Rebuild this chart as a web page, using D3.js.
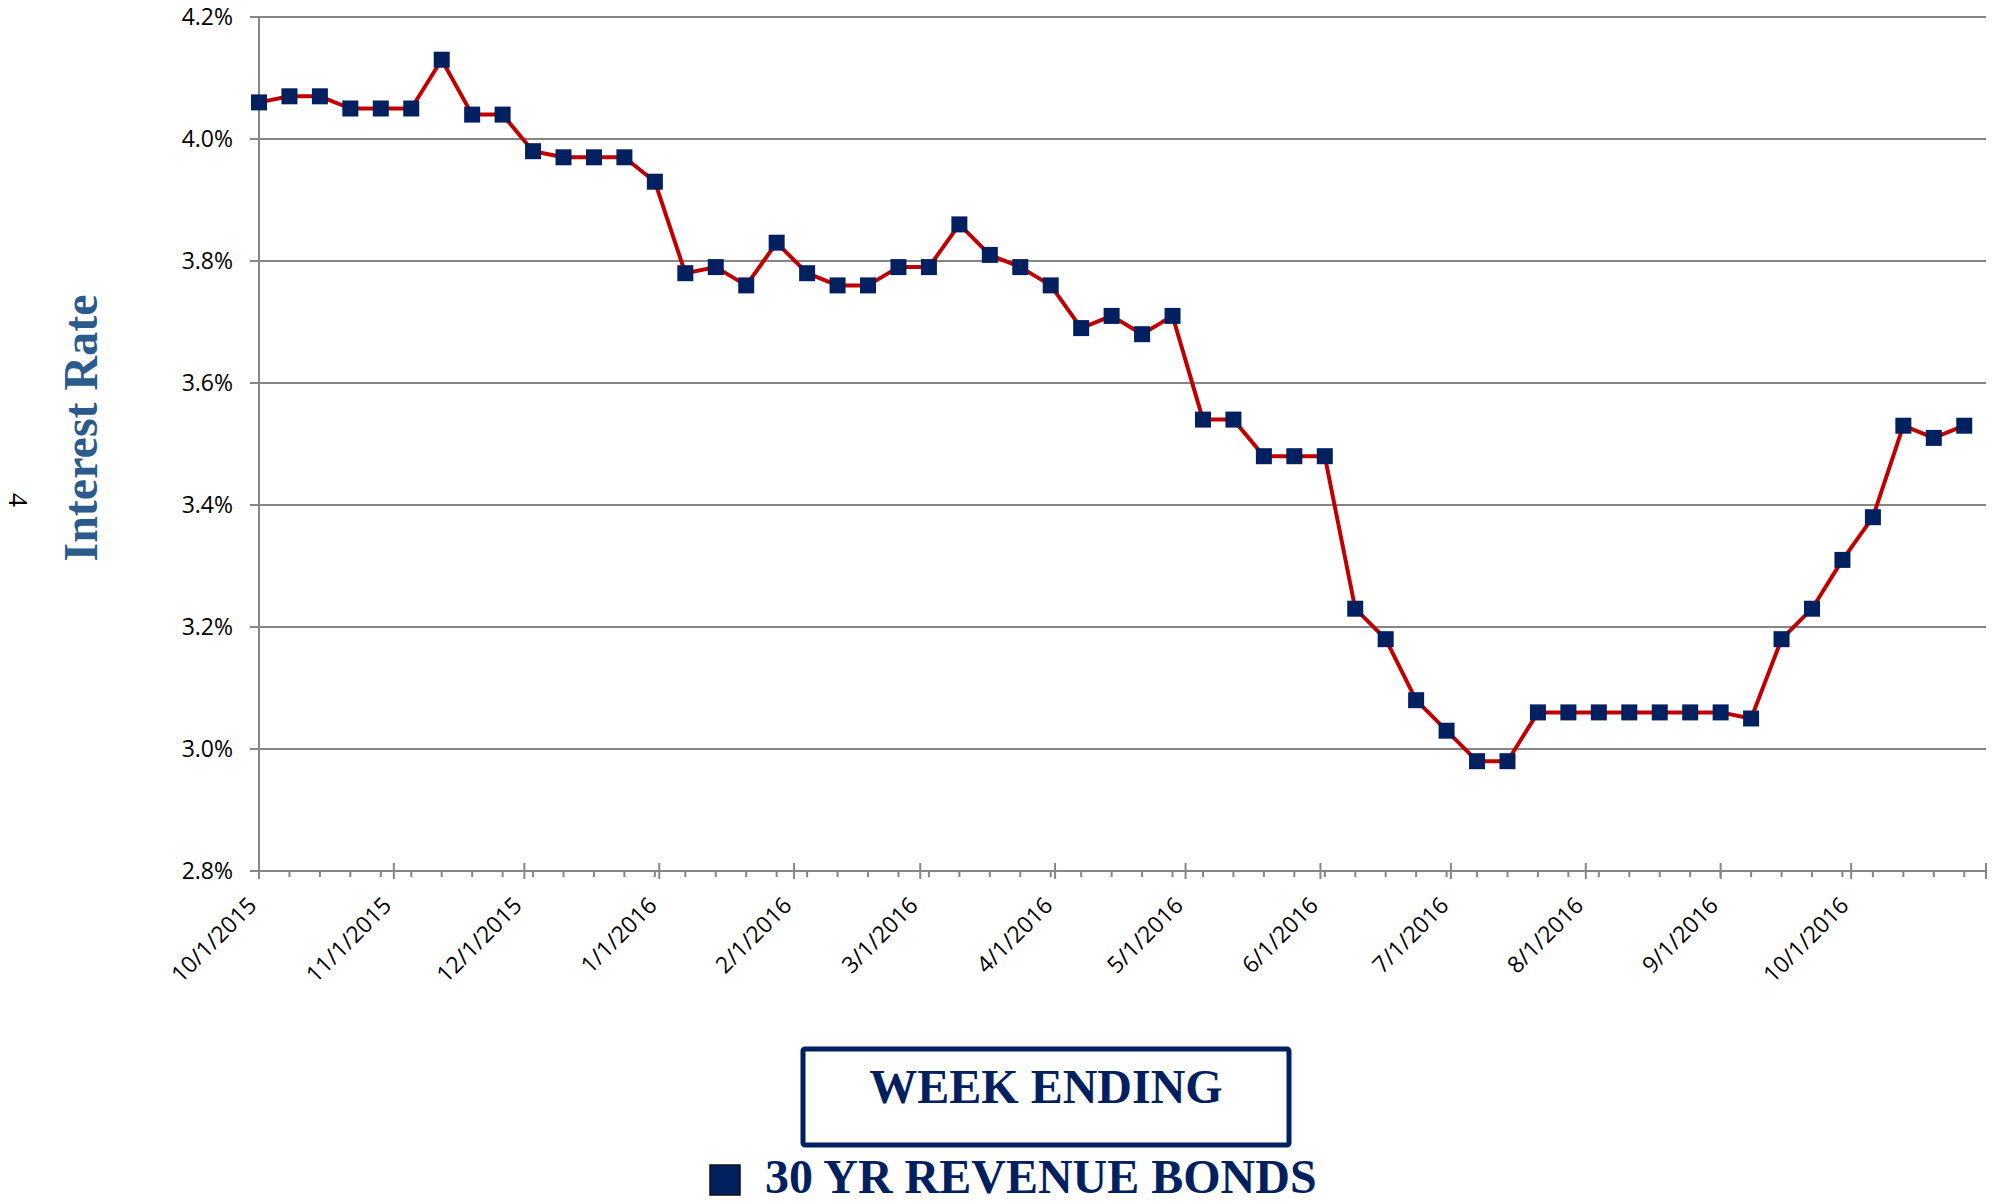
<!DOCTYPE html>
<html>
<head>
<meta charset="utf-8">
<script src="https://cdn.jsdelivr.net/npm/d3@7"></script>
<style>
  html, body { margin: 0; padding: 0; background: #fff; }
  svg { display: block; }
</style>
</head>
<body>
<svg id="chart" width="2002" height="1204"></svg>
<script>
// ---- Data ----
const weekEnding = [
  "2015-10-01","2015-10-08","2015-10-15","2015-10-22","2015-10-29",
  "2015-11-05","2015-11-12","2015-11-19","2015-11-26",
  "2015-12-03","2015-12-10","2015-12-17","2015-12-24","2015-12-31",
  "2016-01-07","2016-01-14","2016-01-21","2016-01-28",
  "2016-02-04","2016-02-11","2016-02-18","2016-02-25",
  "2016-03-03","2016-03-10","2016-03-17","2016-03-24","2016-03-31",
  "2016-04-07","2016-04-14","2016-04-21","2016-04-28",
  "2016-05-05","2016-05-12","2016-05-19","2016-05-26",
  "2016-06-02","2016-06-09","2016-06-16","2016-06-23","2016-06-30",
  "2016-07-07","2016-07-14","2016-07-21","2016-07-28",
  "2016-08-04","2016-08-11","2016-08-18","2016-08-25",
  "2016-09-01","2016-09-08","2016-09-15","2016-09-22","2016-09-29",
  "2016-10-06","2016-10-13","2016-10-20","2016-10-27"
];
const revenueBonds30yr = [
  4.06, 4.07, 4.07, 4.05, 4.05,
  4.05, 4.13, 4.04, 4.04,
  3.98, 3.97, 3.97, 3.97, 3.93,
  3.78, 3.79, 3.76, 3.83,
  3.78, 3.76, 3.76, 3.79,
  3.79, 3.86, 3.81, 3.79, 3.76,
  3.69, 3.71, 3.68, 3.71,
  3.54, 3.54, 3.48, 3.48,
  3.48, 3.23, 3.18, 3.08, 3.03,
  2.98, 2.98, 3.06, 3.06,
  3.06, 3.06, 3.06, 3.06,
  3.06, 3.05, 3.18, 3.23, 3.31,
  3.38, 3.53, 3.51, 3.53
];
const yTicks = [2.8, 3.0, 3.2, 3.4, 3.6, 3.8, 4.0, 4.2];
const xDomain = ["2015-10-01", "2016-11-01"];
const seriesName = "30 YR REVENUE BONDS";
const xTitle = "WEEK ENDING";
const yTitle = "Interest Rate";
const pageNumber = "4";

(function () {
// ---- Setup ----
const parse = d3.utcParse("%Y-%m-%d");
const fmt = d3.utcFormat("%-m/%-d/%Y");
const data = weekEnding.map((d, i) => ({ date: parse(d), value: revenueBonds30yr[i] }));

const svg = d3.select("#chart");
const pLeft = 259, pRight = 1986, pTop = 17, pBottom = 871;

const x = d3.scaleUtc().domain(xDomain.map(parse)).range([pLeft, pRight]);
const y = d3.scaleLinear().domain([2.8, 4.2]).range([pBottom, pTop]);

const gridColor = "#868686";
const labelFont = "'Open Sans', Lato, sans-serif";
const serif = "'Liberation Serif', 'Times New Roman', serif";

// gridlines
svg.append("g").selectAll("line").data(yTicks).join("line")
  .attr("x1", pLeft - 9).attr("x2", pRight)
  .attr("y1", d => y(d)).attr("y2", d => y(d))
  .attr("stroke", gridColor).attr("stroke-width", 2);

// y axis line
svg.append("line").attr("x1", pLeft).attr("x2", pLeft).attr("y1", pTop).attr("y2", pBottom)
  .attr("stroke", gridColor).attr("stroke-width", 2);

// y tick labels
svg.append("g").selectAll("text").data(yTicks).join("text")
  .attr("x", pLeft - 26).attr("y", d => y(d)).attr("dy", "0.36em")
  .attr("text-anchor", "end")
  .attr("font-family", labelFont).attr("font-size", 23).attr("fill", "#000")
  .text(d => d.toFixed(1) + "%");

// x axis minor (weekly) and major (monthly) ticks
const [d0, d1] = x.domain();
const minorTicks = d3.utcDay.range(d0, d3.utcDay.offset(d1, 1)).filter((d, i) => i % 7 === 0);
const majorTicks = d3.utcMonth.range(d0, d3.utcDay.offset(d1, 1));

svg.append("g").selectAll("line").data(minorTicks).join("line")
  .attr("x1", d => x(d)).attr("x2", d => x(d))
  .attr("y1", pBottom).attr("y2", pBottom + 6)
  .attr("stroke", gridColor).attr("stroke-width", 2);

svg.append("g").selectAll("line").data(majorTicks).join("line")
  .attr("x1", d => x(d)).attr("x2", d => x(d))
  .attr("y1", (d, i) => i === 0 ? pBottom : pBottom - 8).attr("y2", pBottom + 8)
  .attr("stroke", gridColor).attr("stroke-width", 2);

// x labels (all months except the final axis end)
svg.append("g").selectAll("text").data(majorTicks.slice(0, -1)).join("text")
  .attr("transform", d => `translate(${x(d) - 1},${pBottom + 36}) rotate(-45)`)
  .attr("text-anchor", "end")
  .attr("font-family", labelFont).attr("font-size", 23).attr("fill", "#000")
  .text(d => fmt(d));

// line
svg.append("path").datum(data)
  .attr("fill", "none").attr("stroke", "#C00000").attr("stroke-width", 4)
  .attr("stroke-linejoin", "round")
  .attr("d", d3.line().x(d => x(d.date)).y(d => y(d.value)));

// markers
const ms = 16;
svg.append("g").selectAll("rect").data(data).join("rect")
  .attr("x", d => x(d.date) - ms / 2).attr("y", d => y(d.value) - ms / 2)
  .attr("width", ms).attr("height", ms)
  .attr("fill", "#002060");

// y axis title
svg.append("text")
  .attr("transform", "translate(97,428) rotate(-90)")
  .attr("text-anchor", "middle")
  .attr("font-family", serif)
  .attr("font-weight", "bold").attr("font-size", 48).attr("fill", "#2B5A8C")
  .text(yTitle);

// page number
svg.append("text")
  .attr("transform", "translate(9,500) rotate(90)")
  .attr("text-anchor", "middle")
  .attr("font-family", serif)
  .attr("font-size", 28).attr("fill", "#000")
  .text(pageNumber);

// x title box
svg.append("rect")
  .attr("x", 803).attr("y", 1049).attr("width", 486).attr("height", 96)
  .attr("rx", 2)
  .attr("fill", "#fff").attr("stroke", "#002060").attr("stroke-width", 5);
svg.append("text")
  .attr("x", 1046).attr("y", 1103)
  .attr("text-anchor", "middle")
  .attr("font-family", serif)
  .attr("font-weight", "bold").attr("font-size", 48).attr("fill", "#002060")
  .text(xTitle);

// legend
svg.append("rect")
  .attr("x", 710).attr("y", 1165).attr("width", 30).attr("height", 30)
  .attr("fill", "#002060").attr("stroke", "#111").attr("stroke-width", 1.5);
svg.append("text")
  .attr("x", 765).attr("y", 1193)
  .attr("font-family", serif)
  .attr("font-weight", "bold").attr("font-size", 48).attr("fill", "#002060")
  .text(seriesName);
})();
</script>
</body>
</html>
